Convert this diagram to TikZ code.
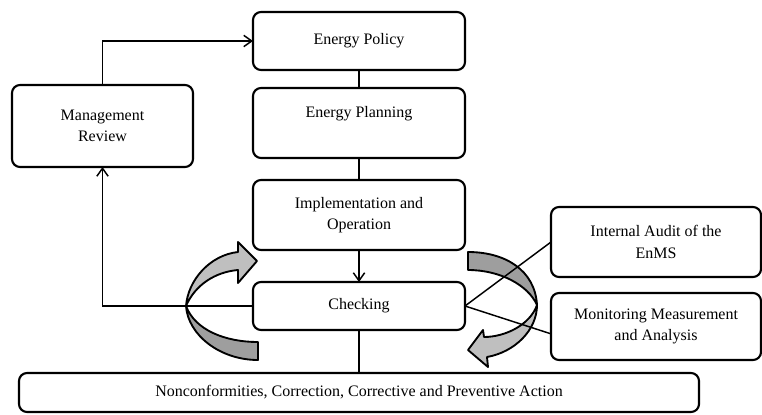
\documentclass[tikz,border=0pt]{standalone}
\usepackage{fontspec}
\setmainfont{Liberation Serif}
\usepackage{tikz}
\usetikzlibrary{positioning,arrows.meta}
\tikzset{enbox/.style={draw,line width=1.6pt,rounded corners=6pt,align=center,inner sep=0pt,outer sep=0pt,fill=white} }
\tikzset{turn/.style={draw,line width=1.4pt,line join=round} }

\begin{document}
\begin{tikzpicture}[x=0.75pt,y=-0.75pt,font=\fontsize{12}{16}\selectfont,line width=1.1pt,>={Straight Barb[length=6pt,width=8.5pt]}]
    \useasboundingbox (0,0) rectangle (762,414);
    \node[enbox,minimum width=159pt,minimum height=43.5pt] (policy) at (359,41) {Energy Policy};
    \node[enbox,minimum width=159pt,minimum height=52.5pt,below=13.5pt of policy] (plan) {Energy Planning\\ \mbox{}};
    \node[enbox,minimum width=159pt,minimum height=52.5pt,below=16.5pt of plan] (impl) {Implementation and\\Operation};
    \node[enbox,minimum width=159pt,minimum height=36pt,below=24pt of impl] (check) {Checking};
    \node[enbox,minimum width=510pt,minimum height=29.25pt,below=32.25pt of check] (nc) {Nonconformities, Correction, Corrective and Preventive Action};
    \node[enbox,minimum width=135.75pt,minimum height=61.5pt] (review) at (102.5,126) {Management\\Review};
    \node[enbox,minimum width=157.5pt,minimum height=52.5pt] (audit) at (656,242) {Internal Audit of the\\EnMS};
    \node[enbox,minimum width=157.5pt,minimum height=50.25pt,below=12pt of audit] (monitor) {Monitoring Measurement\\and Analysis};
    \draw[turn,fill=black!25] (186,306) .. controls (188,280) and (210,255) .. (238,252) -- (238,242) -- (257,261) -- (238,283) -- (238,270) .. controls (215,272) and (195,285) .. (186,306) -- cycle;
    \draw[turn,fill=black!38] (186,306) .. controls (188,335) and (220,360) .. (258,360) -- (258,342) .. controls (225,342) and (195,330) .. (186,306) -- cycle;
    \draw[turn,fill=black!38] (468,252) .. controls (505,252) and (535,270) .. (537,305) .. controls (528,285) and (500,270) .. (468,270) -- cycle;
    \draw[turn,fill=black!25] (537,305) .. controls (537,330) and (515,352) .. (487,357) -- (488,367) -- (468,350) -- (483,330) -- (484,337) .. controls (505,337) and (530,325) .. (537,305) -- cycle;
    \draw (policy) -- (plan);
    \draw (plan) -- (impl);
    \draw[->] (impl) -- (check);
    \draw (check) -- (nc);
    \draw[->] (review.north) |- (policy.west);
    \draw[->] (check.west) -| (review.south);
    \draw (check.east) -- (audit.west);
    \draw (check.east) -- (monitor.184);
\end{tikzpicture}
\end{document}
